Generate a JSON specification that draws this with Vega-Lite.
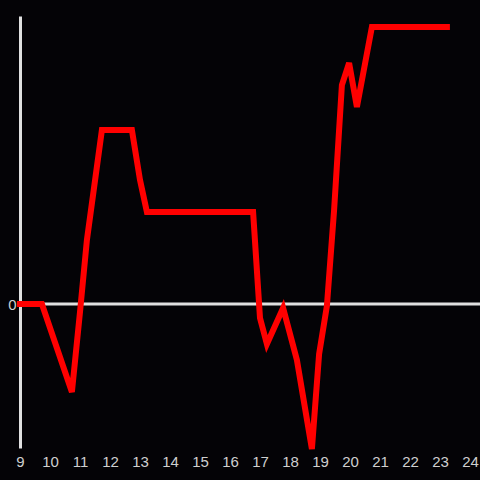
{
  "$schema": "https://vega.github.io/schema/vega-lite/v6.json",
  "autosize": {"type": "none"},
  "width": 460,
  "height": 432,
  "padding": {"left": 20, "top": 16, "right": 0, "bottom": 32},
  "background": "#040306",
  "config": {
    "view": {"stroke": null},
    "axis": {"grid": false, "labelFont": "Liberation Sans", "labelFontSize": 15, "labelColor": "#cfcfcf"},
    "axisX": {"labelOverlap": false, "labelFlush": false, "labelPadding": 6, "domain": false, "ticks": false},
    "axisY": {"domain": true, "domainColor": "#e0e0e0", "domainWidth": 3, "ticks": false, "labelPadding": 4}
  },
  "datasets": {
    "series": [
      {"x": 9.0, "y": 0},
      {"x": 9.73, "y": 0},
      {"x": 10.73, "y": -88},
      {"x": 11.0, "y": -8},
      {"x": 11.23, "y": 64},
      {"x": 11.73, "y": 174},
      {"x": 12.73, "y": 174},
      {"x": 13.0, "y": 124},
      {"x": 13.23, "y": 92},
      {"x": 16.77, "y": 92},
      {"x": 17.0, "y": -14},
      {"x": 17.23, "y": -40},
      {"x": 17.77, "y": -4},
      {"x": 18.23, "y": -56},
      {"x": 18.73, "y": -145},
      {"x": 18.97, "y": -50},
      {"x": 19.23, "y": -2},
      {"x": 19.47, "y": 94},
      {"x": 19.73, "y": 219},
      {"x": 19.97, "y": 241},
      {"x": 20.23, "y": 197},
      {"x": 20.73, "y": 277},
      {"x": 23.23, "y": 277}
    ],
    "zero": [{"x": 9, "x2": 24.3333, "y": 0}]
  },
  "encoding": {
    "x": {"field": "x", "type": "quantitative", "scale": {"domain": [9, 24.3333], "nice": false, "zero": false},
          "axis": {"values": [9,10,11,12,13,14,15,16,17,18,19,20,21,22,23,24], "title": null, "labelOverlap": false}},
    "y": {"field": "y", "type": "quantitative", "scale": {"domain": [-144, 288], "nice": false, "zero": false},
          "axis": {"values": [0], "title": null}}
  },
  "layer": [
    {
      "data": {"name": "zero"},
      "mark": {"type": "rule", "color": "#e0e0e0", "strokeWidth": 3},
      "encoding": {
        "x2": {"field": "x2"}
      }
    },
    {
      "data": {"name": "series"},
      "mark": {"type": "line", "color": "#ff0000", "strokeWidth": 6, "strokeCap": "square", "strokeJoin": "miter"},
      "encoding": {}
    }
  ]
}
